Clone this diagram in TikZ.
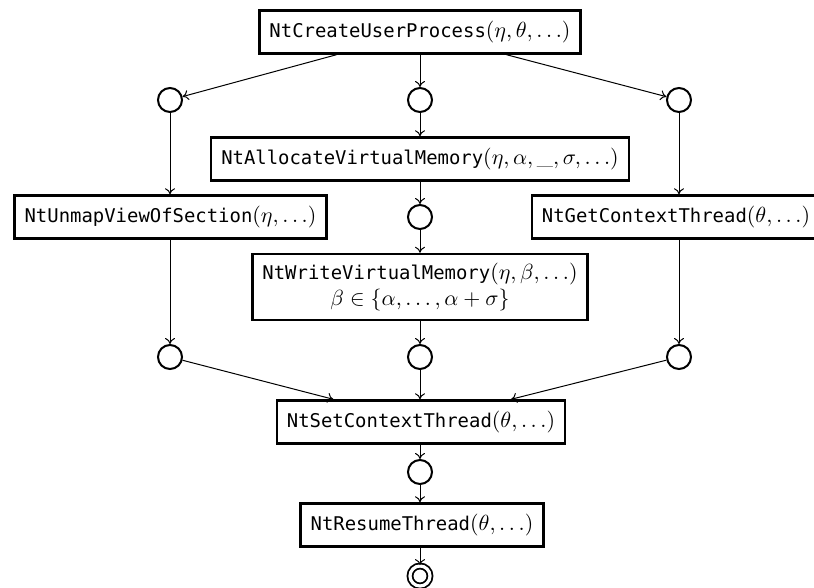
\documentclass[tikz,border=0pt]{standalone}
\usepackage{fontspec}
\setmonofont{DejaVu Sans Mono}[Scale=0.86]
\usetikzlibrary{arrows.meta}
\begin{document}
\begin{tikzpicture}[x=0.5pt,y=-0.5pt,
  fn/.style={draw, line width=1.2pt, font=\fontsize{11}{13}\selectfont,
    inner xsep=5pt, minimum height=21.5pt, fill=white},
  state/.style={circle, draw, line width=1pt, minimum size=12pt, inner sep=0pt},
  final/.style={circle, draw, line width=0.9pt, double, double distance=1.6pt,
    minimum size=10pt, inner sep=0pt},
  flow/.style={-{To[length=3pt,width=5pt]}, line width=0.5pt}]
\useasboundingbox (0,0) rectangle (814,588);

% calls and states
\node[fn] (top) at (420,32) {\texttt{NtCreateUserProcess}$(\eta, \theta, \ldots)$};
\node[state] (c1L) at (170,100) {};
\node[state] (c1M) at (420,100) {};
\node[state] (c1R) at (679,100) {};
\node[fn] (alloc) at (420,159) {\texttt{NtAllocateVirtualMemory}$(\eta, \alpha, \_, \sigma, \ldots)$};
\node[fn] (unmap) at (170.5,217) {\texttt{NtUnmapViewOfSection}$(\eta, \ldots)$};
\node[state] (c2M) at (420,217) {};
\node[fn] (getctx) at (676,217) {\texttt{NtGetContextThread}$(\theta, \ldots)$};
\node[fn, align=center, minimum height=33pt] (write) at (420,287)
  {\texttt{NtWriteVirtualMemory}$(\eta, \beta, \ldots)$\\$\beta \in \{\alpha, \ldots, \alpha + \sigma\}$};
\node[state] (c3L) at (170,357) {};
\node[state] (c3M) at (420,357) {};
\node[state] (c3R) at (679,357) {};
\node[fn] (set) at (421,422) {\texttt{NtSetContextThread}$(\theta, \ldots)$};
\node[state] (c4) at (420,472) {};
\node[fn] (resume) at (422,525) {\texttt{NtResumeThread}$(\theta, \ldots)$};
\node[final] (fin) at (420,576) {};

% transitions
\draw[flow] (top) -- (c1L);
\draw[flow] (top.south -| c1M) -- (c1M);
\draw[flow] (top) -- (c1R);
\draw[flow] (c1L) -- (c1L |- unmap.north);
\draw[flow] (c1M) -- (c1M |- alloc.north);
\draw[flow] (c1R) -- (c1R |- getctx.north);
\draw[flow] (alloc.south -| c2M) -- (c2M);
\draw[flow] (c2M) -- (c2M |- write.north);
\draw[flow] (unmap.south -| c3L) -- (c3L);
\draw[flow] (write.south -| c3M) -- (c3M);
\draw[flow] (getctx.south -| c3R) -- (c3R);
\draw[flow] (c3L) -- (set);
\draw[flow] (c3M) -- (c3M |- set.north);
\draw[flow] (c3R) -- (set);
\draw[flow] (set.south -| c4) -- (c4);
\draw[flow] (c4) -- (c4 |- resume.north);
\draw[flow] (resume.south -| fin) -- (fin);
\end{tikzpicture}
\end{document}
